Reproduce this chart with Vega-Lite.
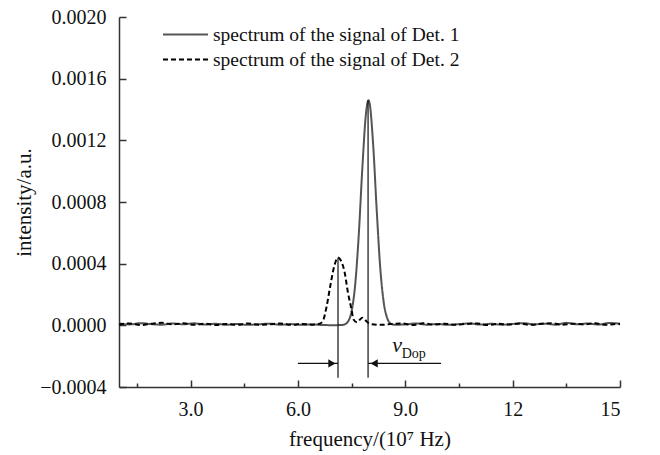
{
  "$schema": "https://vega.github.io/schema/vega-lite/v6.json",
  "width": 501,
  "height": 370,
  "autosize": "none",
  "padding": {"left": 119, "top": 17, "right": 40, "bottom": 68},
  "background": "white",
  "config": {
    "view": {"stroke": null},
    "font": "Liberation Serif",
    "axis": {
      "domainColor": "#333333",
      "domainWidth": 1.5,
      "tickColor": "#333333",
      "tickWidth": 1.5,
      "grid": false,
      "labelFont": "Liberation Serif",
      "labelFontSize": 20,
      "labelColor": "#111111",
      "titleFont": "Liberation Serif",
      "titleFontSize": 21,
      "titleFontWeight": "normal",
      "titleColor": "#111111"
    }
  },
  "datasets": {
    "spectra": [
      {"f": 1.0, "v": 0.000012, "s": "spectrum of the signal of Det. 1"},
      {"f": 1.3, "v": 0.000006, "s": "spectrum of the signal of Det. 1"},
      {"f": 1.6, "v": 0.000014, "s": "spectrum of the signal of Det. 1"},
      {"f": 1.9, "v": 0.000008, "s": "spectrum of the signal of Det. 1"},
      {"f": 2.2, "v": 0.000004, "s": "spectrum of the signal of Det. 1"},
      {"f": 2.5, "v": 0.000012, "s": "spectrum of the signal of Det. 1"},
      {"f": 2.8, "v": 0.000007, "s": "spectrum of the signal of Det. 1"},
      {"f": 3.1, "v": 0.000013, "s": "spectrum of the signal of Det. 1"},
      {"f": 3.4, "v": 0.000005, "s": "spectrum of the signal of Det. 1"},
      {"f": 3.7, "v": 0.00001, "s": "spectrum of the signal of Det. 1"},
      {"f": 4.0, "v": 0.000004, "s": "spectrum of the signal of Det. 1"},
      {"f": 4.3, "v": 0.000009, "s": "spectrum of the signal of Det. 1"},
      {"f": 4.6, "v": 0.000003, "s": "spectrum of the signal of Det. 1"},
      {"f": 4.9, "v": 0.000007, "s": "spectrum of the signal of Det. 1"},
      {"f": 5.2, "v": 0.000011, "s": "spectrum of the signal of Det. 1"},
      {"f": 5.5, "v": 0.000004, "s": "spectrum of the signal of Det. 1"},
      {"f": 5.8, "v": 0.000008, "s": "spectrum of the signal of Det. 1"},
      {"f": 6.1, "v": 0.000003, "s": "spectrum of the signal of Det. 1"},
      {"f": 6.4, "v": 0.000006, "s": "spectrum of the signal of Det. 1"},
      {"f": 6.7, "v": 0.000002, "s": "spectrum of the signal of Det. 1"},
      {"f": 7.0, "v": 0.000001, "s": "spectrum of the signal of Det. 1"},
      {"f": 7.2, "v": 0.000002, "s": "spectrum of the signal of Det. 1"},
      {"f": 7.3, "v": 0.000006, "s": "spectrum of the signal of Det. 1"},
      {"f": 7.4, "v": 0.000025, "s": "spectrum of the signal of Det. 1"},
      {"f": 7.5, "v": 0.000092, "s": "spectrum of the signal of Det. 1"},
      {"f": 7.6, "v": 0.000264, "s": "spectrum of the signal of Det. 1"},
      {"f": 7.7, "v": 0.000587, "s": "spectrum of the signal of Det. 1"},
      {"f": 7.8, "v": 0.00102, "s": "spectrum of the signal of Det. 1"},
      {"f": 7.9, "v": 0.00137, "s": "spectrum of the signal of Det. 1"},
      {"f": 7.97, "v": 0.00146, "s": "spectrum of the signal of Det. 1"},
      {"f": 8.0, "v": 0.001444, "s": "spectrum of the signal of Det. 1"},
      {"f": 8.1, "v": 0.00118, "s": "spectrum of the signal of Det. 1"},
      {"f": 8.2, "v": 0.000754, "s": "spectrum of the signal of Det. 1"},
      {"f": 8.3, "v": 0.000374, "s": "spectrum of the signal of Det. 1"},
      {"f": 8.4, "v": 0.000145, "s": "spectrum of the signal of Det. 1"},
      {"f": 8.5, "v": 0.000044, "s": "spectrum of the signal of Det. 1"},
      {"f": 8.6, "v": 0.00001, "s": "spectrum of the signal of Det. 1"},
      {"f": 8.7, "v": 0.000004, "s": "spectrum of the signal of Det. 1"},
      {"f": 9.0, "v": 0.000006, "s": "spectrum of the signal of Det. 1"},
      {"f": 9.3, "v": 0.000012, "s": "spectrum of the signal of Det. 1"},
      {"f": 9.6, "v": 0.000004, "s": "spectrum of the signal of Det. 1"},
      {"f": 9.9, "v": 0.000009, "s": "spectrum of the signal of Det. 1"},
      {"f": 10.2, "v": 0.000003, "s": "spectrum of the signal of Det. 1"},
      {"f": 10.5, "v": 0.000008, "s": "spectrum of the signal of Det. 1"},
      {"f": 10.8, "v": 0.000012, "s": "spectrum of the signal of Det. 1"},
      {"f": 11.1, "v": 0.000005, "s": "spectrum of the signal of Det. 1"},
      {"f": 11.4, "v": 0.00001, "s": "spectrum of the signal of Det. 1"},
      {"f": 11.7, "v": 0.000004, "s": "spectrum of the signal of Det. 1"},
      {"f": 12.0, "v": 0.000009, "s": "spectrum of the signal of Det. 1"},
      {"f": 12.3, "v": 0.000014, "s": "spectrum of the signal of Det. 1"},
      {"f": 12.6, "v": 0.000006, "s": "spectrum of the signal of Det. 1"},
      {"f": 12.9, "v": 0.000011, "s": "spectrum of the signal of Det. 1"},
      {"f": 13.2, "v": 0.000004, "s": "spectrum of the signal of Det. 1"},
      {"f": 13.5, "v": 0.000016, "s": "spectrum of the signal of Det. 1"},
      {"f": 13.8, "v": 0.000007, "s": "spectrum of the signal of Det. 1"},
      {"f": 14.1, "v": 0.000012, "s": "spectrum of the signal of Det. 1"},
      {"f": 14.4, "v": 0.000005, "s": "spectrum of the signal of Det. 1"},
      {"f": 14.7, "v": 0.000015, "s": "spectrum of the signal of Det. 1"},
      {"f": 15.0, "v": 0.000011, "s": "spectrum of the signal of Det. 1"},
      {"f": 1.0, "v": 0.000005, "s": "spectrum of the signal of Det. 2"},
      {"f": 1.3, "v": 0.000012, "s": "spectrum of the signal of Det. 2"},
      {"f": 1.6, "v": 0.000002, "s": "spectrum of the signal of Det. 2"},
      {"f": 1.9, "v": 0.00001, "s": "spectrum of the signal of Det. 2"},
      {"f": 2.2, "v": 0.000016, "s": "spectrum of the signal of Det. 2"},
      {"f": 2.5, "v": 0.000006, "s": "spectrum of the signal of Det. 2"},
      {"f": 2.8, "v": 0.000013, "s": "spectrum of the signal of Det. 2"},
      {"f": 3.1, "v": 0.000003, "s": "spectrum of the signal of Det. 2"},
      {"f": 3.4, "v": 0.000011, "s": "spectrum of the signal of Det. 2"},
      {"f": 3.7, "v": 0.000002, "s": "spectrum of the signal of Det. 2"},
      {"f": 4.0, "v": 0.000009, "s": "spectrum of the signal of Det. 2"},
      {"f": 4.3, "v": 0.000003, "s": "spectrum of the signal of Det. 2"},
      {"f": 4.6, "v": 0.000012, "s": "spectrum of the signal of Det. 2"},
      {"f": 4.9, "v": 0.000004, "s": "spectrum of the signal of Det. 2"},
      {"f": 5.2, "v": 0.000006, "s": "spectrum of the signal of Det. 2"},
      {"f": 5.5, "v": 0.000012, "s": "spectrum of the signal of Det. 2"},
      {"f": 5.8, "v": 0.000003, "s": "spectrum of the signal of Det. 2"},
      {"f": 6.1, "v": 0.000009, "s": "spectrum of the signal of Det. 2"},
      {"f": 6.4, "v": 0.000004, "s": "spectrum of the signal of Det. 2"},
      {"f": 6.6, "v": 0.00001, "s": "spectrum of the signal of Det. 2"},
      {"f": 6.7, "v": 0.00003, "s": "spectrum of the signal of Det. 2"},
      {"f": 6.8, "v": 0.00012, "s": "spectrum of the signal of Det. 2"},
      {"f": 6.9, "v": 0.00025, "s": "spectrum of the signal of Det. 2"},
      {"f": 7.0, "v": 0.00037, "s": "spectrum of the signal of Det. 2"},
      {"f": 7.12, "v": 0.00044, "s": "spectrum of the signal of Det. 2"},
      {"f": 7.2, "v": 0.00042, "s": "spectrum of the signal of Det. 2"},
      {"f": 7.3, "v": 0.00035, "s": "spectrum of the signal of Det. 2"},
      {"f": 7.4, "v": 0.00021, "s": "spectrum of the signal of Det. 2"},
      {"f": 7.5, "v": 0.0001, "s": "spectrum of the signal of Det. 2"},
      {"f": 7.55, "v": 0.00004, "s": "spectrum of the signal of Det. 2"},
      {"f": 7.65, "v": 0.00002, "s": "spectrum of the signal of Det. 2"},
      {"f": 7.8, "v": 0.00005, "s": "spectrum of the signal of Det. 2"},
      {"f": 7.9, "v": 0.00003, "s": "spectrum of the signal of Det. 2"},
      {"f": 8.0, "v": 0.00001, "s": "spectrum of the signal of Det. 2"},
      {"f": 8.3, "v": 0.000003, "s": "spectrum of the signal of Det. 2"},
      {"f": 8.6, "v": 0.000008, "s": "spectrum of the signal of Det. 2"},
      {"f": 8.9, "v": 0.000012, "s": "spectrum of the signal of Det. 2"},
      {"f": 9.2, "v": 0.000002, "s": "spectrum of the signal of Det. 2"},
      {"f": 9.5, "v": 0.000014, "s": "spectrum of the signal of Det. 2"},
      {"f": 9.8, "v": 0.000005, "s": "spectrum of the signal of Det. 2"},
      {"f": 10.1, "v": 0.00001, "s": "spectrum of the signal of Det. 2"},
      {"f": 10.4, "v": 0.000003, "s": "spectrum of the signal of Det. 2"},
      {"f": 10.7, "v": 0.000009, "s": "spectrum of the signal of Det. 2"},
      {"f": 11.0, "v": 0.000012, "s": "spectrum of the signal of Det. 2"},
      {"f": 11.3, "v": 0.000002, "s": "spectrum of the signal of Det. 2"},
      {"f": 11.6, "v": 0.00001, "s": "spectrum of the signal of Det. 2"},
      {"f": 11.9, "v": 0.000005, "s": "spectrum of the signal of Det. 2"},
      {"f": 12.2, "v": 0.000012, "s": "spectrum of the signal of Det. 2"},
      {"f": 12.5, "v": 0.000003, "s": "spectrum of the signal of Det. 2"},
      {"f": 12.8, "v": 0.00001, "s": "spectrum of the signal of Det. 2"},
      {"f": 13.1, "v": 0.000014, "s": "spectrum of the signal of Det. 2"},
      {"f": 13.4, "v": 0.000004, "s": "spectrum of the signal of Det. 2"},
      {"f": 13.7, "v": 0.000011, "s": "spectrum of the signal of Det. 2"},
      {"f": 14.0, "v": 0.000006, "s": "spectrum of the signal of Det. 2"},
      {"f": 14.3, "v": 0.000013, "s": "spectrum of the signal of Det. 2"},
      {"f": 14.6, "v": 0.000003, "s": "spectrum of the signal of Det. 2"},
      {"f": 14.9, "v": 0.000009, "s": "spectrum of the signal of Det. 2"},
      {"f": 15.0, "v": 0.000007, "s": "spectrum of the signal of Det. 2"}
    ],
    "vlines": [
      {"f": 7.12, "v": -0.00034, "v2": 0.00044},
      {"f": 7.96, "v": -0.00034, "v2": 0.00146}
    ],
    "arrows": [
      {"f": 6.0, "f2": 7.12, "v": -0.000247},
      {"f": 7.96, "f2": 10.0, "v": -0.000247}
    ],
    "heads": [
      {"f": 6.95, "v": -0.000247, "side": "left"},
      {"f": 8.13, "v": -0.000247, "side": "right"}
    ],
    "vlab": [{"f": 8.77, "v": -0.000175, "t": "v"}],
    "dlab": [{"f": 8.9, "v": -0.000215, "t": "Dop"}]
  },
  "layer": [
    {
      "data": {"name": "spectra"},
      "mark": {"type": "line", "strokeWidth": 2, "interpolate": "monotone"},
      "encoding": {
        "x": {
          "field": "f", "type": "quantitative",
          "scale": {"domain": [1, 15], "nice": false, "zero": false},
          "axis": {
            "title": "frequency/(10⁷ Hz)",
            "values": [1.5, 3, 4.5, 6, 7.5, 9, 10.5, 12, 13.5, 15],
            "labelExpr": "datum.value % 3 == 0 ? (datum.value < 10 ? format(datum.value, '.1f') : format(datum.value, 'd')) : ''",
            "tickSize": {"condition": {"test": "datum.value % 3 == 0", "value": -7}, "value": -4},
            "labelPadding": 19,
            "titlePadding": 9
          }
        },
        "y": {
          "field": "v", "type": "quantitative",
          "scale": {"domain": [-0.0004, 0.002], "nice": false, "zero": false},
          "axis": {
            "title": "intensity/a.u.",
            "values": [-0.0004, -0.0002, 0, 0.0002, 0.0004, 0.0006, 0.0008, 0.001, 0.0012, 0.0014, 0.0016, 0.0018, 0.002],
            "labelExpr": "round(datum.value * 10000) % 4 == 0 ? format(datum.value, '.4f') : ''",
            "tickSize": {"condition": {"test": "round(datum.value * 10000) % 4 == 0", "value": -7}, "value": -4},
            "labelPadding": 20,
            "titlePadding": 5
          }
        },
        "color": {
          "field": "s", "type": "nominal",
          "scale": {"domain": ["spectrum of the signal of Det. 1", "spectrum of the signal of Det. 2"], "range": ["#555555", "#000000"]},
          "legend": {
            "title": null, "orient": "none", "legendX": 54, "legendY": 5,
            "symbolType": "M-2,0H2", "symbolSize": 506, "symbolStrokeWidth": 2,
            "labelFont": "Liberation Serif", "labelFontSize": 19.5, "labelColor": "#111111",
            "labelOffset": 15, "rowPadding": 3, "padding": 0, "labelLimit": 400
          }
        },
        "strokeDash": {
          "field": "s", "type": "nominal",
          "scale": {"domain": ["spectrum of the signal of Det. 1", "spectrum of the signal of Det. 2"], "range": [[1, 0], [5, 3]]},
          "legend": {
            "title": null, "orient": "none", "legendX": 54, "legendY": 5,
            "symbolType": "M-2,0H2", "symbolSize": 506, "symbolStrokeWidth": 2,
            "labelFont": "Liberation Serif", "labelFontSize": 19.5, "labelColor": "#111111",
            "labelOffset": 15, "rowPadding": 3, "padding": 0, "labelLimit": 400
          }
        }
      }
    },
    {
      "data": {"name": "vlines"},
      "mark": {"type": "rule", "color": "#111111", "strokeWidth": 1.2},
      "encoding": {
        "x": {"field": "f", "type": "quantitative"},
        "y": {"field": "v", "type": "quantitative"},
        "y2": {"field": "v2"}
      }
    },
    {
      "data": {"name": "arrows"},
      "mark": {"type": "rule", "color": "#111111", "strokeWidth": 1.2},
      "encoding": {
        "x": {"field": "f", "type": "quantitative"},
        "x2": {"field": "f2"},
        "y": {"field": "v", "type": "quantitative"}
      }
    },
    {
      "data": {"name": "heads"},
      "mark": {"type": "point", "filled": true, "color": "#111111", "size": 70, "opacity": 1},
      "encoding": {
        "x": {"field": "f", "type": "quantitative"},
        "y": {"field": "v", "type": "quantitative"},
        "shape": {"field": "side", "type": "nominal", "scale": {"domain": ["left", "right"], "range": ["triangle-right", "triangle-left"]}, "legend": null}
      }
    },
    {
      "data": {"name": "vlab"},
      "mark": {"type": "text", "font": "Liberation Serif", "fontStyle": "italic", "fontSize": 22, "align": "center", "baseline": "alphabetic", "color": "#111111"},
      "encoding": {
        "x": {"field": "f", "type": "quantitative"},
        "y": {"field": "v", "type": "quantitative"},
        "text": {"field": "t"}
      }
    },
    {
      "data": {"name": "dlab"},
      "mark": {"type": "text", "font": "Liberation Serif", "fontSize": 14, "align": "left", "baseline": "alphabetic", "color": "#111111"},
      "encoding": {
        "x": {"field": "f", "type": "quantitative"},
        "y": {"field": "v", "type": "quantitative"},
        "text": {"field": "t"}
      }
    }
  ]
}
